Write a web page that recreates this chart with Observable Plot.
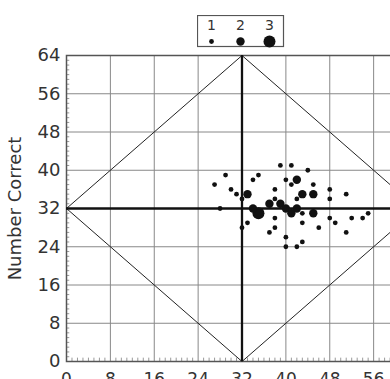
<!DOCTYPE html>
<html><head><meta charset="utf-8">
<script src="https://cdn.jsdelivr.net/npm/d3@7"></script>
<script src="https://cdn.jsdelivr.net/npm/@observablehq/plot@0.6"></script>
<style>
html,body{margin:0;padding:0;background:#fff;overflow:hidden;}
#wrap{position:relative;width:390px;height:379px;overflow:hidden;background:#fff;}
#chart{position:absolute;left:0;top:0;width:440px;}
#chart svg{max-width:none !important;width:440px;height:401px;}
#legend{position:absolute;left:197px;top:15px;}
</style></head><body>
<div id="wrap"><div id="chart"></div><svg id="legend" width="88" height="33"></svg></div>
<script>
// data
const attempted = [39,41,29,35,44,34,40,42,27,41,45,30,38,48,31,33,43,45,51,38,32,42,48,28,34,35,37,39,40,41,42,45,43,55,54,52,48,49,38,33,43,38,32,46,37,51,40,40,42,43];
const correct   = [41,41,39,39,40,38,38,38,37,37,37,36,36,36,35,35,35,35,35,34,34,34,34,32,32,31,33,33,32,31,32,31,31,31,30,30,30,29,30,29,29,28,28,28,27,27,26,24,24,25];
const count     = [1,1,1,1,1,1,1,2,1,1,1,1,1,1,1,2,2,2,1,1,1,1,1,1,2,3,2,2,2,2,2,2,1,1,1,1,1,1,1,1,1,1,1,1,1,1,1,1,1,1];
const axisTicks = [0,8,16,24,32,40,48,56,64];
const diamondX = [0,32,64,32,0];
const diamondY = [32,64,32,0,32];
const legendSizes = [1,2,3];
const yLabel = "Number Correct";

const points = attempted.map((x,i)=>({x, y: correct[i], n: count[i]}));
const diamond = diamondX.map((x,i)=>({x, y: diamondY[i]}));
const gridLines = axisTicks.filter(t => t>0 && t<64 && t!==32);
const minor = d3.range(0,65,1).filter(t => t%8!==0);
const rDomain=[1,3], rRange=[2.4,6];

const plot = Plot.plot({
  width: 440, height: 401,
  marginLeft: 66, marginRight: 23, marginTop: 55, marginBottom: 40,
  style: {fontFamily: "DejaVu Sans", fontSize: "17px", color:"#333", background:"#fff", maxWidth:"none"},
  x: {domain:[0,64]},
  y: {domain:[0,64]},
  r: {type:"linear", domain: rDomain, range: rRange},
  marks: [
    Plot.ruleX(gridLines, {stroke:"#888", strokeWidth:1}),
    Plot.ruleY(gridLines, {stroke:"#888", strokeWidth:1}),
    Plot.ruleX(minor, {y1:0, y2:0.7, stroke:"#999"}),
    Plot.ruleY(minor, {x1:0, x2:0.6, stroke:"#999"}),
    Plot.frame({stroke:"#555", strokeWidth:1.5}),
    Plot.line(diamond, {x:"x", y:"y", stroke:"#222", strokeWidth:1}),
    Plot.ruleX([32], {stroke:"#111", strokeWidth:2.3}),
    Plot.ruleY([32], {stroke:"#111", strokeWidth:2.3}),
    Plot.dot(points, {x:"x", y:"y", r:"n", fill:"#111", stroke:"none"}),
    Plot.axisX({ticks: axisTicks, tickSize:0, tickPadding:11, label:null}),
    Plot.axisY({ticks: axisTicks, tickSize:0, tickPadding:6, label:yLabel, labelAnchor:"center", labelArrow:false, labelOffset:58, fontSize:18})
  ]
});
document.getElementById("chart").appendChild(plot);

// legend
const rs = d3.scaleLinear(rDomain, rRange);
const lg = d3.select("#legend");
lg.append("rect").attr("x",0.5).attr("y",0.5).attr("width",86).attr("height",31)
  .attr("fill","#fff").attr("stroke","#555").attr("stroke-width",1.2);
const cx = d3.scalePoint(legendSizes, [14.5, 72.5]);
const g = lg.selectAll("g").data(legendSizes).join("g");
g.append("text").attr("x", d=>cx(d)).attr("y", 15).attr("text-anchor","middle")
  .attr("font-family","DejaVu Sans").attr("font-size",14).attr("fill","#333").text(d=>d);
g.append("circle").attr("cx", d=>cx(d)).attr("cy", 26.5).attr("r", d=>rs(d)).attr("fill","#111");
</script>
</body></html>
